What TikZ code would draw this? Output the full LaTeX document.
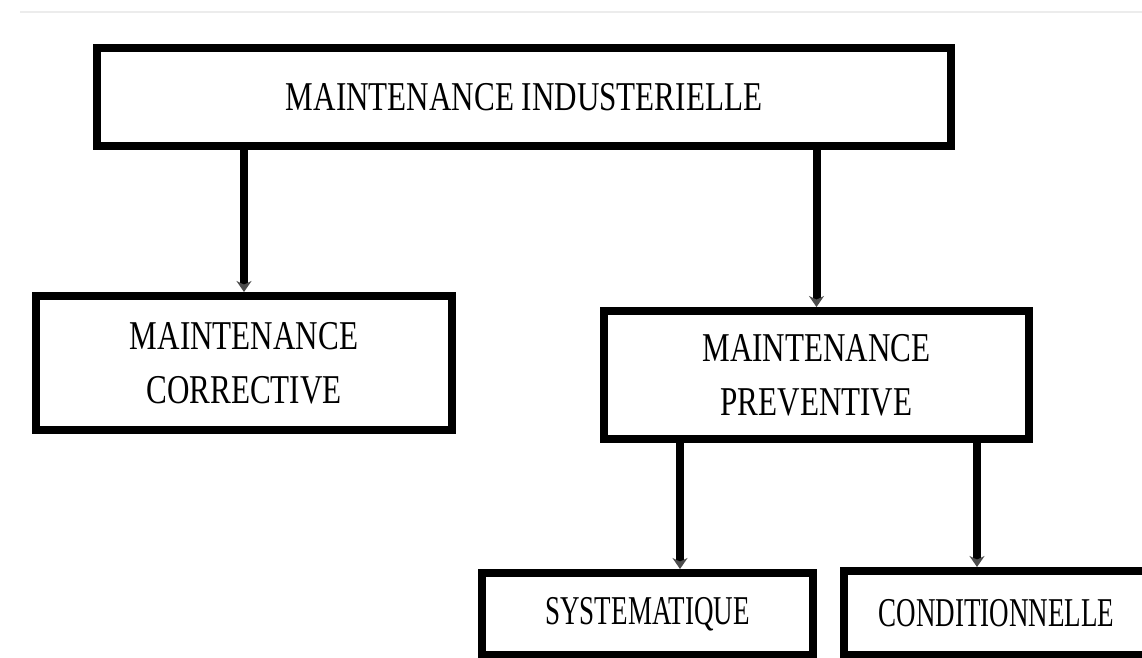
\documentclass[tikz,border=0pt]{standalone}
\usepackage{fontspec}
\setmainfont{Liberation Serif}[FakeStretch=0.76]
\newfontfamily\etroite{Liberation Serif}[FakeStretch=0.66]
\usetikzlibrary{arrows.meta}

\begin{document}
\begin{tikzpicture}[x=0.02cm,y=-0.02cm,
    boite/.style={draw,line width=0.16cm,align=center,inner sep=0pt,
        font=\fontsize{23.3}{30.7}\selectfont},
    petite/.style={boite,font=\etroite\fontsize{23.3}{30.7}\selectfont},
    fleche/.style={line width=0.16cm,-{Stealth[length=0.22cm,width=0.3cm,color=gray!60!black]}}]
    \useasboundingbox (0,0) rectangle (1142,657);
    \draw[gray!15,line width=0.04cm] (20,12) -- (1142,12);
    % les boites
    \node[boite,minimum width=17.08cm,minimum height=1.96cm] (indus) at (524,97) {MAINTENANCE INDUSTERIELLE};
    \node[boite,minimum width=8.32cm,minimum height=2.68cm] (corr) at (244,363) {MAINTENANCE\\CORRECTIVE};
    \node[boite,minimum width=8.5cm,minimum height=2.56cm] (prev) at (816.5,375) {MAINTENANCE\\PREVENTIVE};
    \node[petite,minimum width=6.62cm,minimum height=1.64cm] (sys) at (647.5,614) {SYSTEMATIQUE};
    \node[petite,minimum width=7.2cm,minimum height=1.68cm] (cond) at (1024,613) {\hspace*{-1.1cm}CONDITIONNELLE};
    % les fleches
    \draw[fleche] (corr.north |- indus.south) -- (corr.north);
    \draw[fleche] (prev.north |- indus.south) -- (prev.north);
    \draw[fleche] (prev.south -| 680,0) -- (sys.north -| 680,0);
    \draw[fleche] (prev.south -| 977,0) -- (cond.north -| 977,0);
\end{tikzpicture}
\end{document}
